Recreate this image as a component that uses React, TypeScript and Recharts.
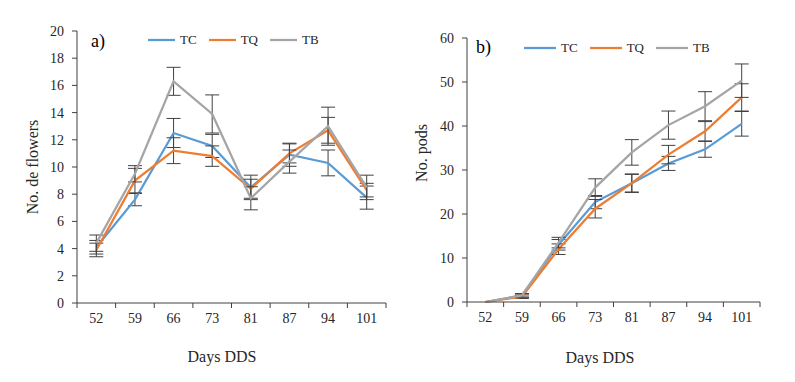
import React from 'react'
import { LineChart, Line, XAxis, YAxis, ErrorBar } from 'recharts'

const days = ['52', '59', '66', '73', '81', '87', '94', '101']

// a) No. de flowers
const flowersTC = [4.1, 7.6, 12.5, 11.55, 8.5, 10.9, 10.3, 7.75]
const flowersTQ = [3.9, 9.0, 11.2, 10.8, 8.4, 11.0, 12.7, 8.3]
const flowersTB = [4.4, 9.5, 16.3, 13.9, 7.7, 10.4, 13.0, 8.5]
const flowersTCErr = [0.5, 0.45, 1.07, 0.85, 0.9, 0.85, 0.95, 0.85]
const flowersTQErr = [0.5, 0.9, 0.95, 0.75, 0.7, 0.7, 0.95, 0.5]
const flowersTBErr = [0.6, 0.6, 1.03, 1.4, 0.85, 0.85, 1.4, 0.9]

// b) No. pods
const podsTC = [0, 1.5, 13, 22.7, 27.0, 31.5, 34.7, 40.5]
const podsTQ = [0, 1.2, 12, 21.2, 27.0, 33.5, 38.8, 46.5]
const podsTB = [0, 1.5, 13.5, 26.0, 34.0, 40.2, 44.5, 50.3]
const podsTCErr = [0, 0.4, 1.2, 1.5, 2.1, 1.6, 1.8, 2.8]
const podsTQErr = [0, 0.4, 1.2, 2.1, 2.0, 2.1, 2.2, 3.1]
const podsTBErr = [0, 0.4, 1.2, 2.0, 2.9, 3.2, 3.3, 3.8]

const flowerTicks = [0, 2, 4, 6, 8, 10, 12, 14, 16, 18, 20]
const podTicks = [0, 10, 20, 30, 40, 50, 60]

const SERIES = [
    { key: 'TC', color: '#5B9BD5' },
    { key: 'TQ', color: '#ED7D31' },
    { key: 'TB', color: '#A5A5A5' },
]

const FONT = '"Liberation Serif", "Times New Roman", serif'
const TEXT = '#262626'

const buildRows = (tc: number[], tq: number[], tb: number[], tcE: number[], tqE: number[], tbE: number[]) =>
    days.map((d, i) => ({
        x: i + 0.5,
        day: d,
        TC: tc[i], TQ: tq[i], TB: tb[i],
        // no bar where the value has no spread
        TCErr: tcE[i] || null, TQErr: tqE[i] || null, TBErr: tbE[i] || null,
    }))

const flowerRows = buildRows(flowersTC, flowersTQ, flowersTB, flowersTCErr, flowersTQErr, flowersTBErr)
const podRows = buildRows(podsTC, podsTQ, podsTB, podsTCErr, podsTQErr, podsTBErr)

const boundaryTicks = days.map((_, i) => i).concat([days.length])
const centerTicks = days.map((_, i) => i + 0.5)

function LegendRow({ left, top, lineW, gap }: { left: number; top: number; lineW: number; gap: number }) {
    return (
        <div style={{ position: 'absolute', left, top, display: 'flex', alignItems: 'center', fontFamily: FONT, fontSize: 13, color: TEXT }}>
            {SERIES.map(s => (
                <div key={s.key} style={{ display: 'flex', alignItems: 'center', marginRight: gap }}>
                    <svg width={lineW} height={4} style={{ marginRight: 5 }}>
                        <line x1={0} y1={2} x2={lineW} y2={2} stroke={s.color} strokeWidth={2.25} />
                    </svg>
                    <span>{s.key}</span>
                </div>
            ))}
        </div>
    )
}

function Panel({ rows, ticks, max, width, margin, yWidth }: any) {
    return (
        <LineChart width={width} height={382} data={rows} margin={margin}>
            <XAxis
                dataKey="x"
                type="number"
                domain={[0, days.length]}
                ticks={boundaryTicks}
                tickFormatter={() => ''}
                height={1}
                stroke="#404040"
                tickLine={{ stroke: '#404040' }}
                tickSize={5}
            />
            <XAxis
                xAxisId="labels"
                dataKey="x"
                type="number"
                domain={[0, days.length]}
                ticks={centerTicks}
                tickFormatter={(v: number) => days[Math.floor(v)]}
                axisLine={false}
                tickLine={false}
                tickSize={0}
                tickMargin={9}
                height={30}
                tick={{ fill: TEXT, fontSize: 14, fontFamily: FONT }}
            />
            <YAxis
                domain={[0, max]}
                ticks={ticks}
                width={yWidth}
                stroke="#404040"
                tickSize={5}
                tickMargin={8}
                tick={{ fill: TEXT, fontSize: 14, fontFamily: FONT }}
            />
            {SERIES.map(s => (
                <Line
                    key={s.key}
                    dataKey={s.key}
                    stroke={s.color}
                    strokeWidth={2.25}
                    dot={false}
                    activeDot={false}
                    isAnimationActive={false}
                >
                    <ErrorBar dataKey={`${s.key}Err`} direction="y" width={7} stroke="#404040" strokeWidth={1} />
                </Line>
            ))}
        </LineChart>
    )
}

export default function App() {
    return (
        <div style={{ position: 'absolute', left: 0, top: 0, width: 795, height: 382, background: '#fff', overflow: 'hidden' }}>
            <div style={{ position: 'absolute', left: 0, top: 0 }}>
                <Panel rows={flowerRows} ticks={flowerTicks} max={20} width={400}
                    margin={{ top: 31, right: 14, left: 17, bottom: 48 }} yWidth={60} />
            </div>
            <div style={{ position: 'absolute', left: 400, top: 0 }}>
                <Panel rows={podRows} ticks={podTicks} max={60} width={395}
                    margin={{ top: 38, right: 35, left: 12, bottom: 49 }} yWidth={55} />
            </div>

            <div style={{ position: 'absolute', left: 91, top: 31, fontFamily: FONT, fontSize: 18, color: '#000' }}>a)</div>
            <div style={{ position: 'absolute', left: 476, top: 37, fontFamily: FONT, fontSize: 18, color: '#000' }}>b)</div>

            <LegendRow left={148} top={32} lineW={27} gap={12} />
            <LegendRow left={524} top={40} lineW={32} gap={12} />

            <div style={{ position: 'absolute', left: 122, width: 200, top: 348, textAlign: 'center', fontFamily: FONT, fontSize: 16, color: TEXT }}>Days DDS</div>
            <div style={{ position: 'absolute', left: 500, width: 200, top: 349, textAlign: 'center', fontFamily: FONT, fontSize: 16, color: TEXT }}>Days DDS</div>

            <div style={{ position: 'absolute', left: 33, top: 167, transform: 'translate(-50%, -50%) rotate(-90deg)', whiteSpace: 'nowrap', fontFamily: FONT, fontSize: 16, color: TEXT }}>No. de flowers</div>
            <div style={{ position: 'absolute', left: 422, top: 153, transform: 'translate(-50%, -50%) rotate(-90deg)', whiteSpace: 'nowrap', fontFamily: FONT, fontSize: 16, color: TEXT }}>No. pods</div>
        </div>
    )
}
